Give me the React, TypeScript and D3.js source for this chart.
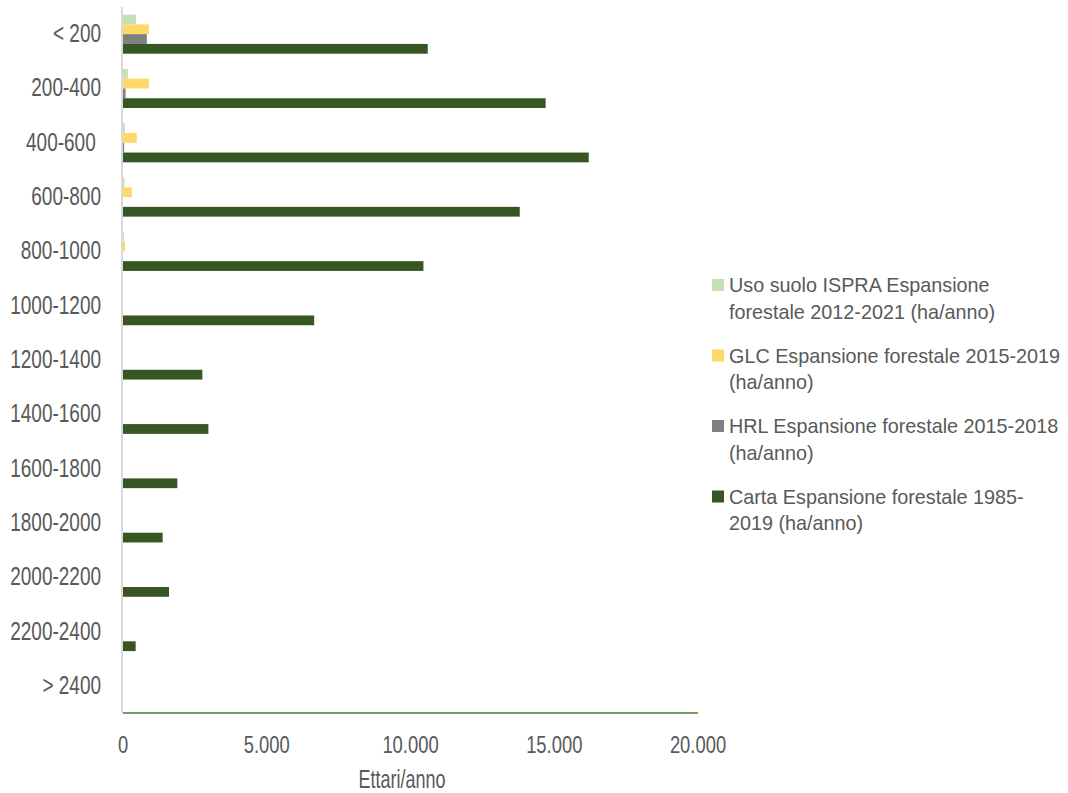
import React from "react";
import * as d3 from "d3";

const categories = ["< 200", "200-400", "400-600 ", "600-800", "800-1000", "1000-1200", "1200-1400", "1400-1600", "1600-1800", "1800-2000", "2000-2200", "2200-2400", "> 2400"];
const usoSuolo = [450, 170, 60, 50, 30, 0, 0, 0, 0, 0, 0, 0, 0];
const glc = [900, 900, 480, 310, 70, 0, 0, 0, 0, 0, 0, 0, 0];
const hrl = [830, 90, 40, 0, 0, 0, 0, 0, 0, 0, 0, 0, 0];
const carta = [10600, 14700, 16200, 13800, 10450, 6650, 2760, 2970, 1890, 1380, 1600, 440, 0];
const seriesNames = [
  ["Uso suolo ISPRA Espansione", "forestale 2012-2021 (ha/anno)"],
  ["GLC Espansione forestale 2015-2019", "(ha/anno)"],
  ["HRL Espansione forestale 2015-2018", "(ha/anno)"],
  ["Carta Espansione forestale 1985-", "2019 (ha/anno)"],
];
const seriesColors = ["#C5E0B4", "#FFD966", "#808080", "#375623"];
const xTicks = [0, 5000, 10000, 15000, 20000];
const xTickLabels = ["0", "5.000", "10.000", "15.000", "20.000"];
const axisTitle = "Ettari/anno";

const FONT = "'Liberation Sans', Arial, sans-serif";
const TXT = "#595959";

export default function App() {
  const W = 1068, H = 793;
  const left = 123, right = 698, top = 7, bottom = 713;
  const x = d3.scaleLinear().domain([0, 20000]).range([left, right]);
  const y = d3.scaleBand<string>().domain(categories).range([top, bottom]).paddingInner(0.28).paddingOuter(0.14);
  const series = [usoSuolo, glc, hrl, carta];
  const inner = d3.scaleBand<number>().domain([0, 1, 2, 3]).range([0, y.bandwidth()]);
  const yc = d3.scaleBand<string>().domain(categories).range([top, bottom]);

  return (
    <svg width={W} height={H} style={{ position: "absolute", left: 0, top: 0, background: "#fff" }} fontFamily={FONT}>
      {categories.map((c, i) =>
        series.map((s, k) => (
          <rect key={c + k} x={x(0)} y={(y(c) as number) + (inner(k) as number)} width={x(s[i]) - x(0)} height={inner.bandwidth()} fill={seriesColors[k]} />
        ))
      )}
      <line x1={122} x2={122} y1={top} y2={bottom} stroke="#D9D9D9" strokeWidth={2} />
      <line x1={left} x2={right} y1={bottom} y2={bottom} stroke="#4F7A33" strokeWidth={1.5} />
      {categories.map((c) => (
        <text key={c} transform={`translate(101,${(yc(c) as number) + yc.bandwidth() / 2 + 8}) scale(0.76,1)`} textAnchor="end" fontSize={25} fill={TXT} style={{ whiteSpace: "pre" }}>{c}</text>
      ))}
      {xTicks.map((t, i) => (
        <text key={t} transform={`translate(${x(t)},753) scale(0.8,1)`} textAnchor="middle" fontSize={23} fill={TXT}>{xTickLabels[i]}</text>
      ))}
      <text transform={`translate(402,788) scale(0.72,1)`} textAnchor="middle" fontSize={25} fill={TXT}>{axisTitle}</text>
      {seriesNames.map((lines, k) => {
        const by = 292 + k * 70.5;
        return (
          <g key={k}>
            <rect x={712} y={by - 13} width={12} height={12} fill={seriesColors[k]} />
            {lines.map((ln, j) => (
              <text key={j} x={729} y={by + j * 26.5} fontSize={19.8} fill={TXT}>{ln}</text>
            ))}
          </g>
        );
      })}
    </svg>
  );
}
